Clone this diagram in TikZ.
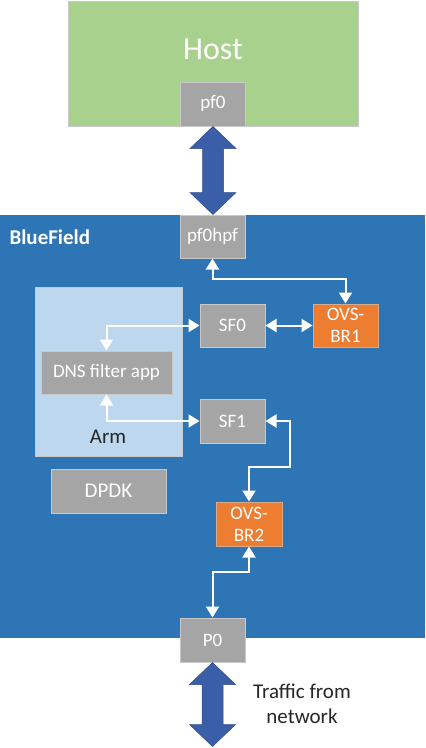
\documentclass[tikz,border=0pt]{standalone}
\usepackage{fontspec}
\setmainfont{Carlito}
\usetikzlibrary{arrows.meta,calc}
\definecolor{hostgreen}{HTML}{A9D18E}
\definecolor{bfblue}{HTML}{2E75B6}
\definecolor{armblue}{HTML}{BDD7EE}
\definecolor{boxgray}{HTML}{A5A5A5}
\definecolor{boxedge}{HTML}{C9C9C9}
\definecolor{ovsorange}{HTML}{ED7D31}
\definecolor{bigarrowblue}{HTML}{3B5EA8}
\tikzset{
  graybox/.style={draw=boxedge, line width=1pt, fill=boxgray, text=white, inner sep=0pt, align=center, font=\fontsize{19}{22}\selectfont},
  ovsbox/.style={draw=boxedge!60!ovsorange, line width=1pt, fill=ovsorange, text=white, inner sep=0pt, align=center, font=\fontsize{19}{22}\selectfont},
  conn/.style={draw=white, line width=2pt, {Triangle[width=13pt,length=11pt,fill=white]}-{Triangle[width=13pt,length=11pt,fill=white]}},
  bigarrow/.style={fill=bigarrowblue, draw=bigarrowblue!80!black, line width=0.5pt}
}
\begin{document}
\begin{tikzpicture}[x=1pt,y=-1pt]
\useasboundingbox (0,0) rectangle (426,748);
% Host
\node[draw=boxedge, line width=1pt, fill=hostgreen, minimum width=290pt, minimum height=125pt, inner sep=0pt] (host) at (213,63.5) {};
\node[text=white, font=\fontsize{32}{38}\selectfont] (hostlbl) at (213,49) {Host};
\node[graybox, minimum width=65pt, minimum height=44pt] (pf0) at (213,104) {pf0};
% BlueField
\node[fill=bfblue, minimum width=425pt, minimum height=423pt, inner sep=0pt] (bf) at (212.5,426.5) {};
\node[text=white, font=\bfseries\fontsize{21}{25}\selectfont, anchor=west] (bflbl) at (6,237) {BlueField};
% Arm
\node[draw=boxedge, line width=0.8pt, fill=armblue, minimum width=147pt, minimum height=169pt, inner sep=0pt] (arm) at (108.5,371.5) {};
\node[font=\fontsize{21}{25}\selectfont, text=black!85] (armlbl) at (108,437) {Arm};
% boxes
\node[graybox, minimum width=65pt, minimum height=43pt] (pf0hpf) at (212.5,236.5) {pf0hpf};
\node[graybox, minimum width=65pt, minimum height=43pt] (sf0) at (232.5,325.5) {SF0};
\node[ovsbox, minimum width=65pt, minimum height=43pt] (ovs1) at (345.5,325.5) {OVS-\\BR1};
\node[graybox, minimum width=131pt, minimum height=43pt] (dns) at (106.5,372.5) {DNS filter app};
\node[graybox, minimum width=65pt, minimum height=44pt] (sf1) at (232.5,421) {SF1};
\node[graybox, minimum width=115pt, minimum height=44pt, font=\fontsize{21}{25}\selectfont] (dpdk) at (108.5,491) {DPDK};
\node[ovsbox, minimum width=66pt, minimum height=44pt] (ovs2) at (249,524) {OVS-\\BR2};
\node[graybox, minimum width=65pt, minimum height=44pt] (p0) at (212.5,640) {P0};
\node[align=center, font=\fontsize{21}{25}\selectfont, text=black!85] (traffic) at (302,704) {Traffic from\\network};
% connectors
\draw[conn] (pf0hpf.south) -- ++(0,20) -| (ovs1.north);
\draw[conn] (sf0.west) -| (dns.north);
\draw[conn] (sf0.east) -- (ovs1.west);
\draw[conn] (dns.south) |- (sf1.west);
\draw[conn] (sf1.east) -- ++(24,0) -- ++(0,46) -| (ovs2.north);
\draw[conn] (ovs2.south) -- ++(0,25) -| (p0.north);
% big arrows
\fill[bigarrow] (213,126.5) -- (236,148.5) -- (223.5,148.5) -- (223.5,192.5) -- (236,192.5) -- (213,214.5) -- (190,192.5) -- (202.5,192.5) -- (202.5,148.5) -- (190,148.5) -- cycle;
\fill[bigarrow] (212.5,662.5) -- (235.5,684.5) -- (223,684.5) -- (223,724.5) -- (235.5,724.5) -- (212.5,746.5) -- (189.5,724.5) -- (202,724.5) -- (202,684.5) -- (189.5,684.5) -- cycle;
\end{tikzpicture}
\end{document}
